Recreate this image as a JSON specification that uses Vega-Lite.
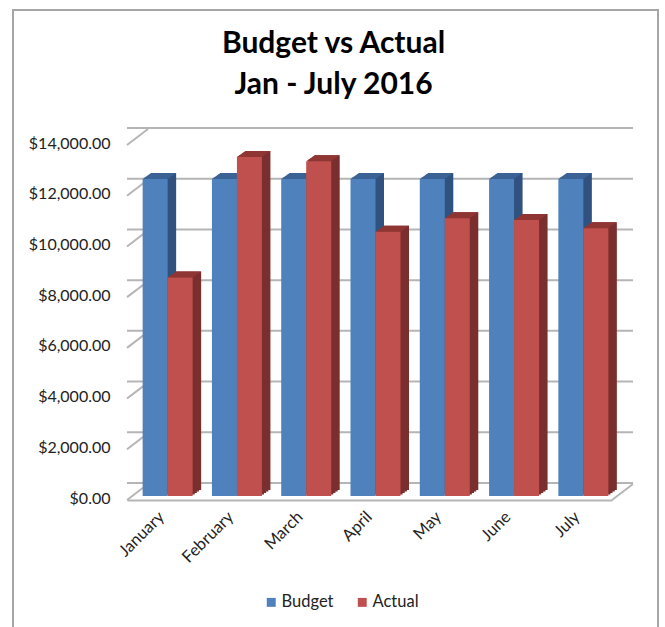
{
"$schema":"https://vega.github.io/schema/vega-lite/v6.json",
"width":485,"height":355,"autosize":"none",
"padding":{"left":127,"top":145,"right":53,"bottom":127},
"background":"white",
"title":{"text":["Budget vs Actual","Jan - July 2016"],"font":"Lato","fontSize":30,"fontWeight":"bold","color":"#000000","lineHeight":41,"anchor":"middle","offset":-91,"dx":-36},
"config":{"view":{"stroke":null}},
"datasets":{"bars":[
{"month":"January","series":"Budget","amount":12500},{"month":"January","series":"Actual","amount":8620},
{"month":"February","series":"Budget","amount":12500},{"month":"February","series":"Actual","amount":13370},
{"month":"March","series":"Budget","amount":12500},{"month":"March","series":"Actual","amount":13200},
{"month":"April","series":"Budget","amount":12500},{"month":"April","series":"Actual","amount":10420},
{"month":"May","series":"Budget","amount":12500},{"month":"May","series":"Actual","amount":10950},
{"month":"June","series":"Budget","amount":12500},{"month":"June","series":"Actual","amount":10880},
{"month":"July","series":"Budget","amount":12500},{"month":"July","series":"Actual","amount":10560}],
"ticks":[{"v":0},{"v":2000},{"v":4000},{"v":6000},{"v":8000},{"v":10000},{"v":12000},{"v":14000}]},
"resolve":{"scale":{"x":"independent","y":"independent","color":"independent"}},
"layer":[
{"data":{"values":[{"part":"chart frame"}]},
 "mark":{"type":"rect","fill":null,"stroke":"#A6A6A6","strokeWidth":2,"clip":false},
 "encoding":{
  "x":{"datum":0,"type":"quantitative","axis":null,"scale":{"domain":[0,1],"range":[-114,531]}},
  "x2":{"datum":1},
  "y":{"datum":0,"type":"quantitative","axis":null,"scale":{"domain":[0,1],"range":[500,-135]}},
  "y2":{"datum":1}}},
{"data":{"name":"ticks"},
 "mark":{"type":"rule","color":"#B5B5B5","strokeWidth":2,"xOffset":21,"yOffset":-17},
 "encoding":{"y":{"field":"v","type":"quantitative","axis":null,"scale":{"domain":[0,14000]}}}},
{"data":{"name":"ticks"},
 "mark":{"type":"point","shape":"M0,0L1,-0.76","size":1764,"filled":false,"stroke":"#B5B5B5","strokeWidth":2,"opacity":1},
 "encoding":{
  "x":{"datum":0,"type":"quantitative","axis":null,"scale":{"domain":[0,1],"range":[0,485]}},
  "y":{"field":"v","type":"quantitative","axis":null,"scale":{"domain":[0,14000]}}}},
{"data":{"values":[{"v":0}]},
 "mark":{"type":"point","shape":"M0,0L1,-0.76","size":1764,"filled":false,"stroke":"#B5B5B5","strokeWidth":2,"opacity":1},
 "encoding":{
  "x":{"datum":1,"type":"quantitative","axis":null,"scale":{"domain":[0,1],"range":[0,485]}},
  "y":{"field":"v","type":"quantitative","axis":null,"scale":{"domain":[0,14000]}}}},
{"data":{"name":"bars"},
 "encoding":{
  "x":{"field":"month","type":"nominal","sort":["January","February","March","April","May","June","July"],
   "axis":{"title":null,"labelAngle":-45,"labelAlign":"right","labelBaseline":"middle","labelFont":"Lato","labelFontSize":16.5,"labelColor":"#222222","labelPadding":14,"labelOffset":0,"ticks":false,"domainColor":"#B5B5B5","domainWidth":2,"grid":false}},
  "y":{"field":"amount","type":"quantitative",
   "scale":{"domain":[0,14000]},
   "axis":{"title":null,"values":[0,2000,4000,6000,8000,10000,12000,14000],"format":"$,.2f","labelFont":"Lato","labelFontSize":16,"labelColor":"#222222","labelPadding":17,"labelOffset":-2,"ticks":false,"domain":false,"grid":false}}},
 "layer":[
  {"transform":[{"filter":"datum.series=='Budget'"}],"layer":[
   {"mark":{"type":"bar","size":25,"color":"#2F5280","xOffset":-4.4,"yOffset":-5.5}},
   {"mark":{"type":"bar","size":25,"color":"#2F5280","xOffset":-2.3,"yOffset":-7}},
   {"mark":{"type":"bar","size":25,"color":"#2F5280","xOffset":-0.1,"yOffset":-8.5}},
   {"mark":{"type":"bar","size":25,"color":"#2F5280","xOffset":2,"yOffset":-10}},
   {"mark":{"type":"point","shape":"M-12.5,0L12.5,0L21,-6L-4,-6Z","size":4,"filled":true,"opacity":1,"color":"#3A6294","xOffset":-6.5,"yOffset":-4}}
  ]},
  {"transform":[{"filter":"datum.series=='Actual'"}],"layer":[
   {"mark":{"type":"bar","size":25,"color":"#7A2F2E","xOffset":20.6,"yOffset":-5.5}},
   {"mark":{"type":"bar","size":25,"color":"#7A2F2E","xOffset":22.7,"yOffset":-7}},
   {"mark":{"type":"bar","size":25,"color":"#7A2F2E","xOffset":24.9,"yOffset":-8.5}},
   {"mark":{"type":"bar","size":25,"color":"#7A2F2E","xOffset":27,"yOffset":-10}},
   {"mark":{"type":"point","shape":"M-12.5,0L12.5,0L21,-6L-4,-6Z","size":4,"filled":true,"opacity":1,"color":"#8F3533","xOffset":18.5,"yOffset":-4}}
  ]},
  {"transform":[{"filter":"datum.series=='Budget'"}],
   "mark":{"type":"bar","size":25,"xOffset":-6.5,"yOffset":-4},
   "encoding":{"color":{"field":"series","type":"nominal","scale":{"domain":["Budget","Actual"],"range":["#4F81BD","#C0504D"]},
    "legend":{"title":null,"orient":"none","legendX":136,"legendY":449,"direction":"horizontal","symbolType":"square","symbolSize":80,"labelFont":"Lato","labelFontSize":16.5,"labelOffset":2,"labelColor":"#222222","columnPadding":20}}}},
  {"transform":[{"filter":"datum.series=='Actual'"}],
   "mark":{"type":"bar","size":25,"xOffset":18.5,"yOffset":-4},
   "encoding":{"color":{"field":"series","type":"nominal","scale":{"domain":["Budget","Actual"],"range":["#4F81BD","#C0504D"]},
    "legend":{"title":null,"orient":"none","legendX":136,"legendY":449,"direction":"horizontal","symbolType":"square","symbolSize":80,"labelFont":"Lato","labelFontSize":16.5,"labelOffset":2,"labelColor":"#222222","columnPadding":20}}}}
 ]}
]}
